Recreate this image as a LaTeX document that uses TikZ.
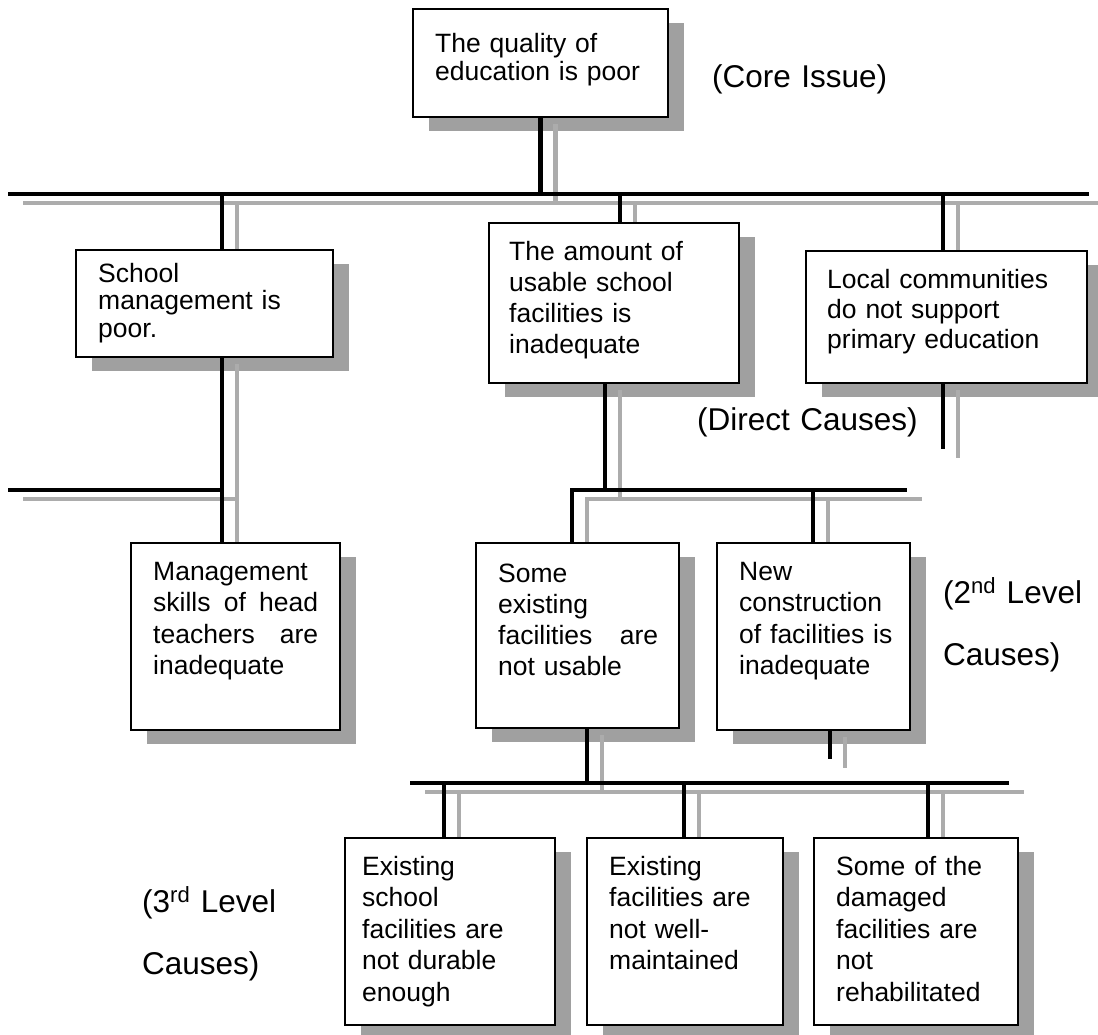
\documentclass[tikz,border=0pt]{standalone}
\usepackage{fontspec}
\setmainfont{Liberation Sans}
\usetikzlibrary{calc}
\pgfdeclarelayer{shadows}
\pgfdeclarelayer{wires}
\pgfsetlayers{shadows,wires,main}
\definecolor{boxshade}{RGB}{160,160,160}
\definecolor{wireshade}{RGB}{172,172,172}

% every connector of the tree, drawn once as shadow and once in black
\newcommand\drawwires[1]{%
  \draw[#1] (q.south) -- (q.south |- mainL);
  \draw[#1] (mainL) -- (mainR);
  \draw[#1] (jS) -- (jS |- sm.north);
  \draw[#1] (jA) -- (jA |- am.north);
  \draw[#1] (jL) -- (jL |- lc.north);
  \draw[#1] (jS |- sm.south) -- (jS |- ms.north);
  \draw[#1] (leftL) -- (jS |- leftL);
  \draw[#1] (jL |- lc.south) -- (stubL);
  \draw[#1] (jB |- am.south) -- (jB);
  \draw[#1] (midL) -- (midR);
  \draw[#1] (midL) -- (midL |- se.north);
  \draw[#1] (jN) -- (jN |- nc.north);
  \draw[#1] (stubN |- nc.south) -- (stubN);
  \draw[#1] (jD |- se.south) -- (jD);
  \draw[#1] (lowL) -- (lowR);
  \draw[#1] (jE) -- (jE |- ea.north);
  \draw[#1] (jF) -- (jF |- eb.north);
  \draw[#1] (jG) -- (jG |- ec.north);
}

\begin{document}
\begin{tikzpicture}[x=1pt,y=-1pt,
  box/.style={draw=black, line width=1.2pt, fill=white, rectangle,
    inner sep=0pt, outer sep=0pt, anchor=north west},
  txt/.style={font=\fontsize{26.5}{#1}\selectfont, inner sep=0pt,
    anchor=base west, align=left, text width=260pt},
  lbl/.style={font=\fontsize{31.5}{62}\selectfont, inner sep=0pt,
    anchor=base west, align=left, text width=320pt},
  wire/.style={line width=4.6pt, draw=black, line cap=rect},
  wireshadow/.style={line width=4.8pt, draw=wireshade, line cap=rect},
]
\useasboundingbox (0,0) rectangle (1098,1034);

% boxes
\node[box, minimum width=255pt, minimum height=108pt] (q)  at (413,9)   {};
\node[box, minimum width=257pt, minimum height=107pt] (sm) at (76,250)  {};
\node[box, minimum width=250pt, minimum height=160pt] (am) at (489,223) {};
\node[box, minimum width=281pt, minimum height=132pt] (lc) at (806,251) {};
\node[box, minimum width=209pt, minimum height=187pt] (ms) at (131,543) {};
\node[box, minimum width=203pt, minimum height=185pt] (se) at (476,543) {};
\node[box, minimum width=193pt, minimum height=187pt] (nc) at (717,543) {};
\node[box, minimum width=210pt, minimum height=187pt] (ea) at (345,838) {};
\node[box, minimum width=196pt, minimum height=187pt] (eb) at (587,838) {};
\node[box, minimum width=204pt, minimum height=187pt] (ec) at (814,838) {};

% box texts
\node[txt=28] (qT) at (435,52) {The quality of\\education is poor};
\node[txt=27.5] (smT) at (98,282) {School\\management is\\poor.};
\node[txt=31] (amT) at (509,260) {The amount of\\usable school\\facilities is\\inadequate};
\node[txt=30] (lcT) at (827,288) {Local communities\\do not support\\primary education};
\node[txt=31.6, text width=165pt] (msT) at (153,580)
  {Management\\skills\hfill of\hfill head\\teachers\hfill are\\inadequate};
\node[txt=31, text width=160pt] (seT) at (498,582)
  {Some\\existing\\facilities\hfill are\\not usable};
\node[txt=31.5] (ncT) at (739,580) {New\\construction\\of facilities is\\inadequate};
\node[txt=31.5] (eaT) at (362,875) {Existing\\school\\facilities are\\not durable\\enough};
\node[txt=31.5] (ebT) at (609,875) {Existing\\facilities are\\not well-\\maintained};
\node[txt=31.5] (ecT) at (836,875) {Some of the\\damaged\\facilities are\\not\\rehabilitated};

% level labels
\node[lbl] (core)   at (712,87)  {(Core Issue)};
\node[lbl] (direct) at (697,430) {(Direct Causes)};
\node[lbl, text width=160pt] (second) at (943,603) {(2\textsuperscript{nd} Level\\Causes)};
\node[lbl, text width=180pt] (third)  at (142,912) {(3\textsuperscript{rd} Level\\Causes)};

% bus bars and junctions
\coordinate (mainL) at (10,194);
\coordinate (mainR) at (1087,194);
\coordinate (jS) at (222,194);
\coordinate (jA) at (620,194);
\coordinate (jL) at (943,194);
\coordinate (leftL) at (10,490);
\coordinate (stubL) at (943,447);
\coordinate (jB) at (605,490);
\coordinate (midL) at (572,490);
\coordinate (midR) at (905,490);
\coordinate (jN) at (813,490);
\coordinate (stubN) at (830,757);
\coordinate (jD) at (587,783);
\coordinate (lowL) at (412,783);
\coordinate (lowR) at (1007,783);
\coordinate (jE) at (444,783);
\coordinate (jF) at (684,783);
\coordinate (jG) at (928,783);

\begin{pgfonlayer}{shadows}
  \fill[white] (0,0) rectangle (1098,1034);
  \foreach \n in {q,sm,am,lc,ms,se,nc,ea,eb,ec}
    \fill[boxshade] ($(\n.north west)+(16,14)$) rectangle ($(\n.south east)+(16,14)$);
\end{pgfonlayer}

\begin{pgfonlayer}{wires}
  \begin{scope}[transform canvas={shift={(15pt,-9pt)}}]
    \drawwires{wireshadow}
  \end{scope}
  \drawwires{wire}
\end{pgfonlayer}
\end{tikzpicture}
\end{document}
